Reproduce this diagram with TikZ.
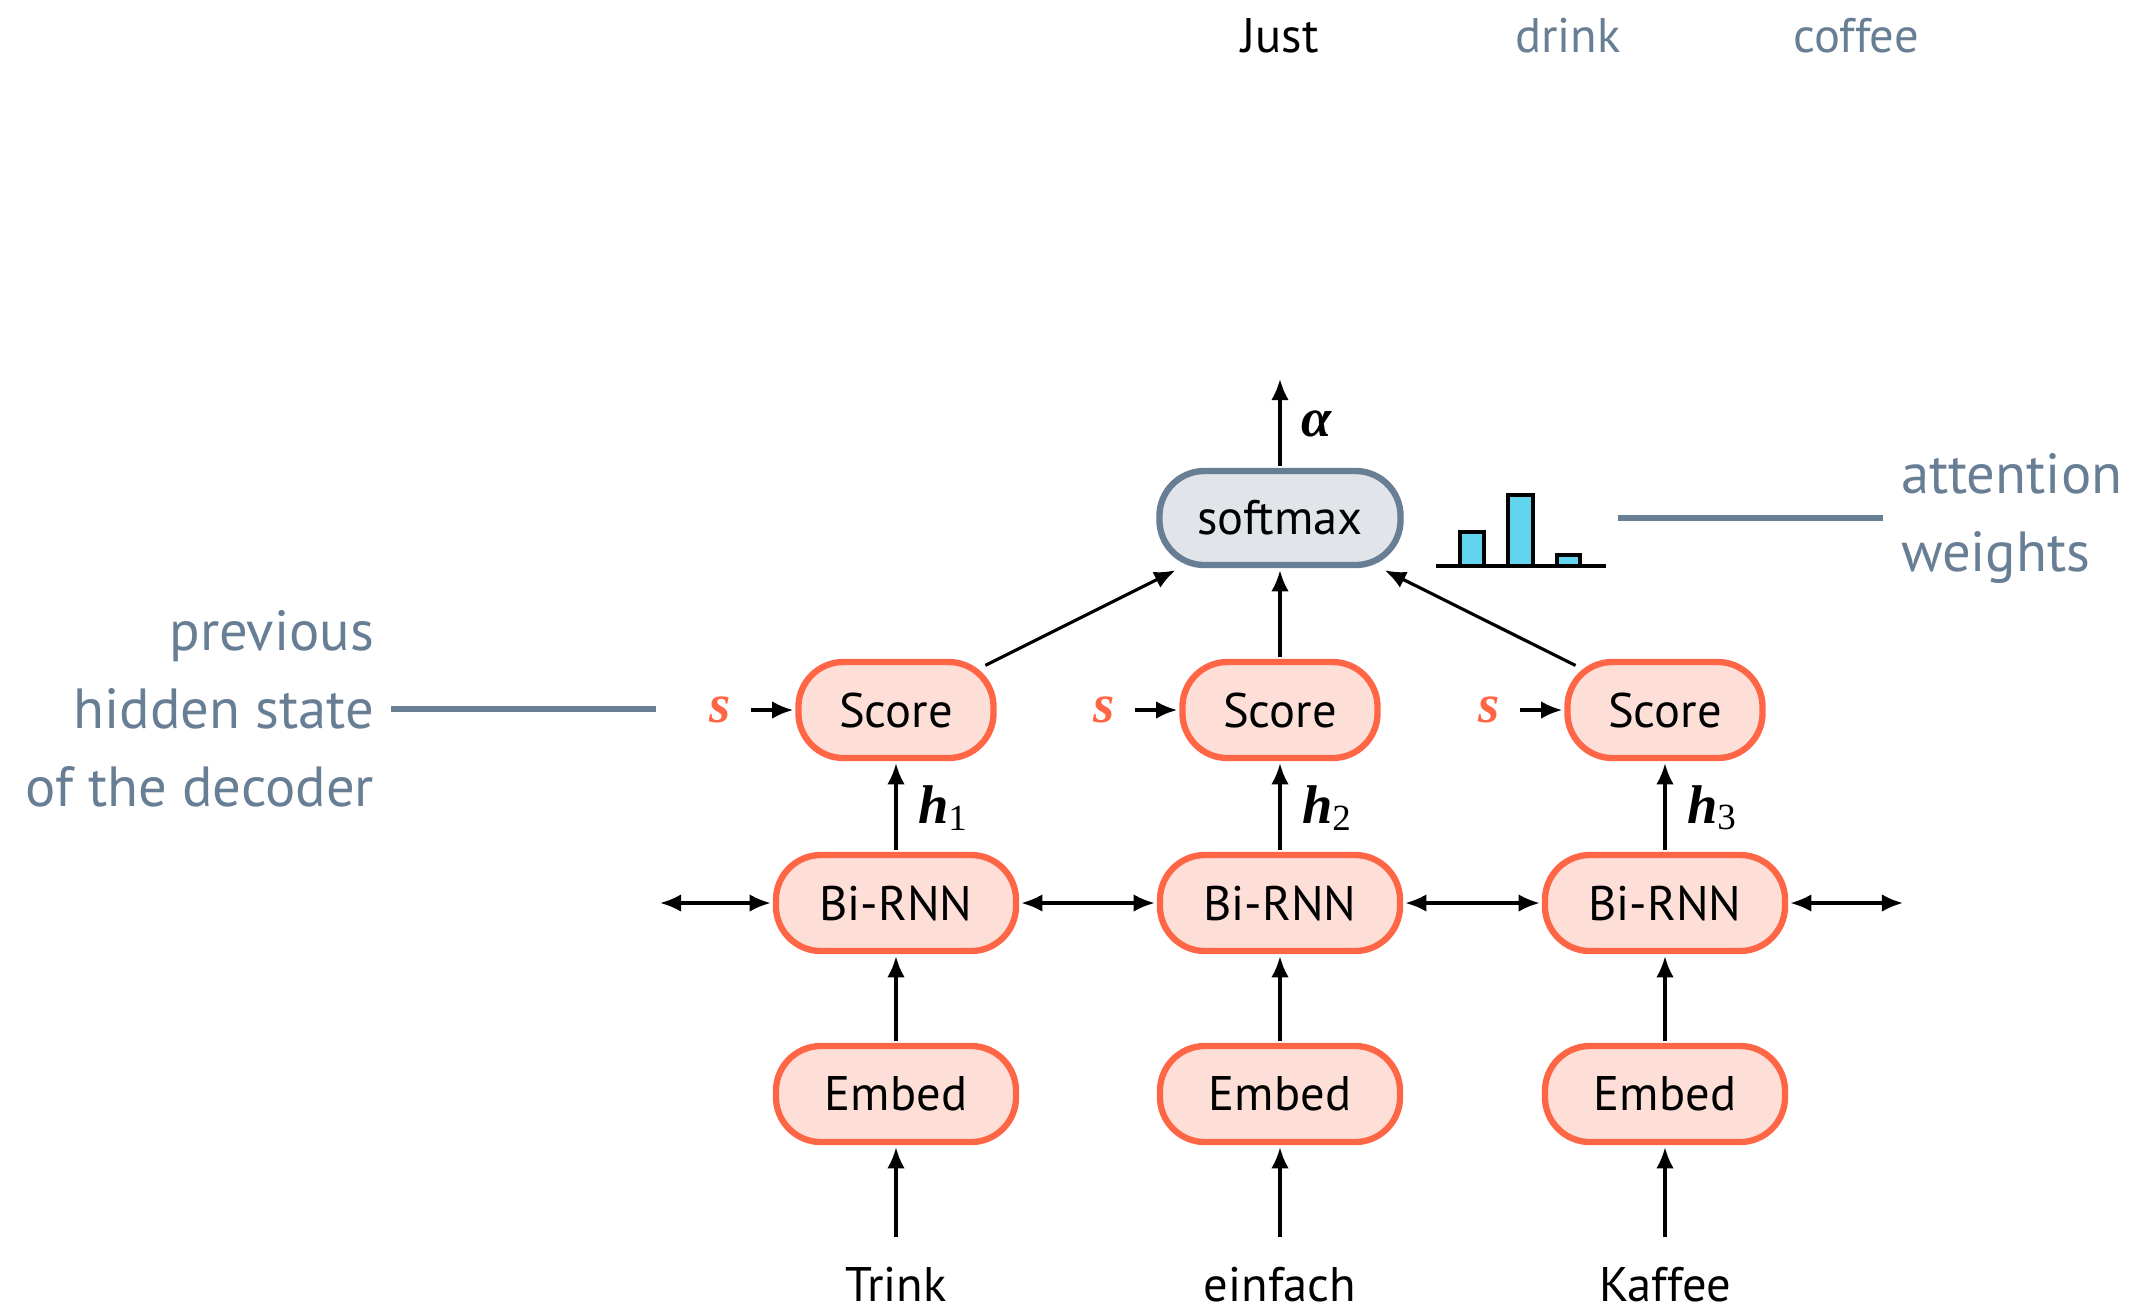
\documentclass[tikz,border=0pt]{standalone}
\usepackage{fontspec}
\setmainfont{PT Sans}
\newfontfamily\symserif{Liberation Serif}
\usetikzlibrary{arrows.meta}

\definecolor{blockline}{HTML}{FF6645}
\definecolor{blockfill}{HTML}{FDDFD8}
\definecolor{slate}{HTML}{687E94}
\definecolor{smfill}{HTML}{E1E4E9}
\definecolor{barfill}{HTML}{62D4EE}

\newcommand\blocksize{\fontsize{13.8}{16}\selectfont}
\newcommand\annotsize{\fontsize{16.1}{22.2}\selectfont}
\newcommand\vecsym[1]{{\fontsize{15.5}{15.5}\selectfont\symserif\bfseries\itshape #1}}
\newcommand\hsub[1]{\vecsym{h}\raisebox{-0.35ex}{\fontsize{10.5}{10.5}\selectfont\symserif #1}}

\begin{document}
\begin{tikzpicture}[x=0.01cm,y=-0.01cm,
  every node/.style={inner sep=0pt, outer sep=0pt},
  block/.style={draw=blockline, fill=blockfill, line width=1.8pt,
    rounded corners=0.45cm, minimum width=2.4cm, minimum height=0.96cm,
    outer sep=1.5pt, font=\blocksize},
  scorebox/.style={block, minimum width=1.95cm},
  smbox/.style={block, draw=slate, fill=smfill, minimum width=2.41cm,
    minimum height=0.94cm},
  word/.style={anchor=base, font=\blocksize},
  annot/.style={font=\annotsize, text=slate},
  flow/.style={-{Latex[length=6pt,width=5pt]}, line width=0.9pt},
  twoway/.style={{Latex[length=6pt,width=5pt]}-{Latex[length=6pt,width=5pt]}, line width=0.9pt},
  annotline/.style={draw=slate, line width=1.5pt},
  bar/.style={draw=black, fill=barfill, line width=1pt}
]
\useasboundingbox (0,0) rectangle (2138,1311);

% output words
\node[word] (out1) at (1280,52) {Just};
\node[word, text=slate] (out2) at (1568,52) {drink};
\node[word, text=slate] (out3) at (1856,52) {coffee};

% input words
\node[word] (w1) at (896,1301) {Trink};
\node[word] (w2) at (1280,1301) {einfach};
\node[word] (w3) at (1665,1301) {Kaffee};

% embedding layer
\node[block] (emb1) at (896,1094) {Embed};
\node[block] (emb2) at (1280,1094) {Embed};
\node[block] (emb3) at (1665,1094) {Embed};

% bidirectional RNN layer
\node[block] (rnn1) at (896,903) {Bi-RNN};
\node[block] (rnn2) at (1280,903) {Bi-RNN};
\node[block] (rnn3) at (1665,903) {Bi-RNN};

% score layer
\node[scorebox] (sc1) at (896,710) {Score};
\node[scorebox] (sc2) at (1280,710) {Score};
\node[scorebox] (sc3) at (1665,710) {Score};

% softmax
\node[smbox] (sm) at (1280,518) {softmax};

% decoder state inputs
\node[text=blockline] (s1) at (720,710) {\vecsym{s}};
\node[text=blockline] (s2) at (1104,710) {\vecsym{s}};
\node[text=blockline] (s3) at (1489,710) {\vecsym{s}};

% hidden state labels
\node[anchor=west] (h1) at (918,808) {\hsub{1}};
\node[anchor=west] (h2) at (1302,808) {\hsub{2}};
\node[anchor=west] (h3) at (1687,808) {\hsub{3}};

% output of the softmax
\coordinate (aend) at (1280,379);
\node (alpha) at (1317,424) {\vecsym{α}};

% free ends of the recurrent chain
\coordinate (chainL) at (660,903);
\coordinate (chainR) at (1903,903);

% connectors
\foreach \i in {1,2,3} {
  \draw[flow, shorten <=0.3cm] (w\i) -- (emb\i);
  \draw[flow] (emb\i) -- (rnn\i);
  \draw[flow] (rnn\i) -- (sc\i);
  \draw[flow, shorten <=0.2cm] (s\i) -- (sc\i);
}
\draw[twoway] (chainL) -- (rnn1);
\draw[twoway] (rnn1) -- (rnn2);
\draw[twoway] (rnn2) -- (rnn3);
\draw[twoway] (rnn3) -- (chainR);

\draw[flow, shorten <=-0.15cm] (sc1) -- (sm);
\draw[flow] (sc2) -- (sm);
\draw[flow, shorten <=-0.15cm] (sc3) -- (sm);
\draw[flow] (sm) -- (aend);

% attention weight histogram
\draw[bar] (1460,566) rectangle (1484,532);
\draw[bar] (1508,566) rectangle (1533,495);
\draw[bar] (1557,566) rectangle (1580,555);
\draw[line width=1pt] (1436,566) -- (1606,566);

% annotations
\node[annot, align=right, anchor=east] (prev) at (374,709)
  {previous\\hidden state\\of the decoder};
\coordinate (prevend) at (656,709);
\draw[annotline, shorten <=0.17cm] (prev) -- (prevend);

\node[annot, align=left, anchor=west] (attn) at (1901,518)
  {attention\\weights};
\coordinate (attnstart) at (1618,518);
\draw[annotline, shorten >=0.18cm] (attnstart) -- (attn);
\end{tikzpicture}
\end{document}
